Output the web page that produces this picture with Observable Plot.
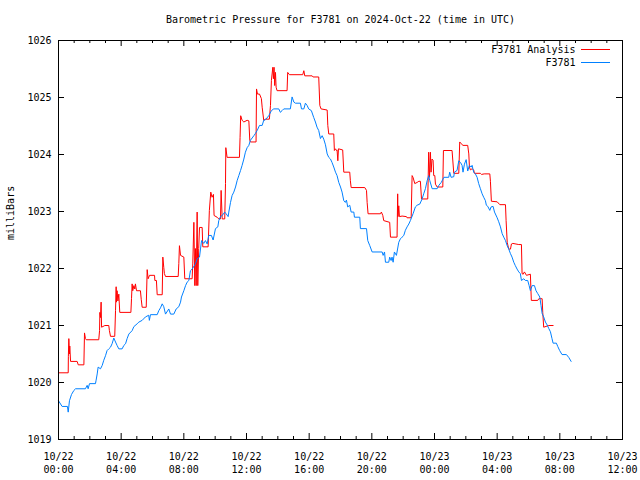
<!DOCTYPE html>
<html>
<head>
<meta charset="utf-8">
<script src="https://cdn.jsdelivr.net/npm/d3@7"></script>
<script src="https://cdn.jsdelivr.net/npm/@observablehq/plot@0.6"></script>
<style>
  html, body { margin: 0; padding: 0; background: white; }
</style>
</head>
<body>
<div id="chart"></div>
<script>
// Hours since 2024-10-22 00:00 UTC, and pressure in millibars
const obsHours = [0.00,0.23,0.57,0.62,0.70,0.83,0.98,1.09,1.72,1.83,1.89,1.98,2.36,2.40,2.47,2.53,2.68,2.79,2.89,3.00,3.10,3.21,3.32,3.42,3.53,3.64,3.74,3.85,4.06,4.17,4.28,4.38,4.49,4.70,4.81,5.02,5.13,5.34,5.55,5.76,5.80,5.87,6.30,6.40,6.51,6.62,6.72,6.83,7.04,7.15,7.36,7.51,7.68,7.79,7.85,8.00,8.11,8.21,8.32,8.42,8.53,8.74,8.85,9.00,9.13,9.27,9.38,9.49,9.59,9.76,9.87,10.02,10.17,10.23,10.34,10.45,10.61,10.70,10.83,10.87,10.98,11.08,11.19,11.30,11.40,11.51,11.62,11.72,11.83,11.93,12.04,12.15,12.25,12.36,12.47,12.57,12.68,12.83,13.00,13.10,13.21,13.42,13.59,13.74,14.06,14.16,14.27,14.38,14.80,14.91,15.02,15.12,15.44,15.51,15.66,15.76,15.87,15.97,16.14,16.29,16.40,16.50,16.61,16.72,16.83,16.93,17.04,17.15,17.25,17.36,17.46,17.57,17.68,17.78,17.89,18.00,18.10,18.21,18.31,18.38,18.46,18.59,18.68,18.85,18.89,19.23,19.27,19.66,19.74,19.87,20.02,20.66,20.72,20.81,20.87,21.08,21.14,21.23,21.29,21.36,21.44,21.57,21.72,21.82,21.93,22.04,22.14,22.25,22.36,22.46,22.63,22.78,22.89,23.06,23.21,23.31,23.42,23.53,23.63,23.70,23.85,24.17,24.28,24.43,24.60,24.91,24.97,25.06,25.23,25.27,25.44,25.55,25.66,25.76,25.82,25.91,26.02,26.12,26.23,26.34,26.40,26.50,26.61,26.72,26.82,26.93,27.04,27.14,27.25,27.31,27.40,27.53,27.61,27.74,27.83,28.00,28.10,28.21,28.32,28.42,28.53,28.64,28.74,28.85,28.95,29.06,29.16,29.27,29.38,29.48,29.55,29.70,29.80,29.95,30.04,30.12,30.23,30.38,30.48,30.59,30.72,30.80,30.87,30.97,31.08,31.19,31.29,31.40,31.50,31.57,31.78,31.87,31.99,32.14,32.42,32.57,32.72];
const obsValues = [1019.68,1019.58,1019.58,1019.48,1019.68,1019.79,1019.86,1019.89,1019.89,1019.95,1019.89,1019.98,1019.98,1020.04,1020.15,1020.27,1020.24,1020.30,1020.39,1020.47,1020.56,1020.59,1020.62,1020.68,1020.78,1020.71,1020.65,1020.59,1020.59,1020.65,1020.68,1020.77,1020.85,1020.91,1020.98,1021.03,1021.06,1021.09,1021.15,1021.18,1021.09,1021.19,1021.19,1021.26,1021.31,1021.38,1021.33,1021.20,1021.29,1021.20,1021.20,1021.29,1021.33,1021.41,1021.50,1021.61,1021.70,1021.76,1021.79,1021.96,1021.99,1022.08,1022.17,1022.20,1022.49,1022.44,1022.49,1022.43,1022.58,1022.58,1022.50,1022.70,1022.73,1022.84,1022.91,1022.93,1022.99,1022.96,1022.91,1022.99,1023.16,1023.28,1023.34,1023.43,1023.54,1023.63,1023.72,1023.81,1023.92,1024.04,1024.12,1024.16,1024.25,1024.29,1024.33,1024.37,1024.42,1024.51,1024.51,1024.60,1024.61,1024.68,1024.77,1024.80,1024.80,1024.74,1024.77,1024.80,1024.80,1025.01,1024.92,1024.90,1024.90,1024.80,1024.80,1024.90,1024.86,1024.80,1024.77,1024.65,1024.57,1024.48,1024.42,1024.28,1024.33,1024.27,1024.17,1024.01,1023.95,1023.92,1023.86,1023.78,1023.69,1023.63,1023.51,1023.43,1023.34,1023.19,1023.16,1023.20,1023.08,1023.11,1022.99,1022.99,1022.90,1022.90,1022.70,1022.70,1022.49,1022.40,1022.29,1022.29,1022.23,1022.29,1022.11,1022.11,1022.20,1022.14,1022.20,1022.11,1022.29,1022.23,1022.46,1022.52,1022.55,1022.58,1022.67,1022.73,1022.78,1022.84,1022.96,1023.08,1023.11,1023.13,1023.22,1023.31,1023.40,1023.54,1023.63,1023.54,1023.40,1023.40,1023.46,1023.51,1023.60,1023.60,1023.69,1023.60,1023.61,1023.69,1023.72,1023.89,1023.86,1023.81,1023.69,1023.83,1023.91,1023.71,1023.81,1023.78,1023.81,1023.69,1023.66,1023.60,1023.49,1023.40,1023.31,1023.25,1023.19,1023.11,1023.09,1023.02,1023.08,1023.09,1022.99,1022.89,1022.82,1022.73,1022.61,1022.55,1022.49,1022.40,1022.34,1022.26,1022.20,1022.11,1022.05,1021.99,1021.94,1021.91,1021.79,1021.82,1021.79,1021.79,1021.70,1021.61,1021.70,1021.70,1021.61,1021.56,1021.50,1021.35,1021.21,1021.15,1021.06,1021.01,1020.95,1020.89,1020.77,1020.69,1020.69,1020.63,1020.56,1020.49,1020.49,1020.44,1020.37];

const anaHours = [0.00,0.62,0.63,0.66,0.70,0.72,0.77,1.19,1.26,1.62,1.66,1.72,1.77,2.57,2.62,2.64,2.68,2.72,2.75,2.96,3.21,3.25,3.32,3.59,3.64,3.68,3.70,3.74,3.79,3.85,3.91,4.62,4.66,4.70,4.74,4.81,4.87,4.91,4.98,5.23,5.28,5.34,5.60,5.66,5.72,5.81,6.13,6.15,6.25,6.30,6.62,6.66,6.72,6.76,6.83,7.64,7.68,7.72,7.79,8.00,8.06,8.53,8.57,8.64,8.70,8.74,8.79,8.85,8.89,8.95,9.00,9.17,9.21,9.55,9.63,9.72,9.80,9.89,9.93,10.12,10.23,10.34,10.38,10.45,10.61,10.66,10.68,10.76,11.55,11.59,11.63,11.72,11.83,12.04,12.15,12.21,12.25,12.61,12.64,12.70,12.83,12.95,13.00,13.10,13.21,13.46,13.53,13.59,13.68,13.72,13.76,13.80,13.85,13.89,13.95,14.59,14.63,14.74,15.59,15.66,15.72,16.19,16.25,16.61,16.68,16.76,17.15,17.19,17.25,17.57,17.61,17.68,17.74,17.78,17.83,17.87,18.14,18.21,18.59,18.63,18.68,19.55,19.66,19.70,19.76,20.55,20.61,20.70,20.76,21.14,21.19,21.61,21.65,21.67,21.72,21.76,21.93,22.21,22.25,22.51,22.57,22.63,22.74,22.89,23.00,23.10,23.17,23.57,23.63,23.68,23.74,23.78,23.84,23.91,23.95,24.02,24.06,24.17,24.53,24.57,25.12,25.23,25.55,25.61,25.70,25.82,26.12,26.19,26.23,26.29,26.40,26.50,26.55,26.93,27.00,27.17,27.53,27.57,27.63,28.00,28.17,28.53,28.57,28.64,28.74,28.85,28.91,29.00,29.38,29.55,29.59,29.66,29.74,29.87,30.12,30.18,30.59,30.66,30.87,30.91,30.97,31.29,31.57];
const anaValues = [1020.17,1020.17,1020.46,1020.77,1020.50,1020.64,1020.37,1020.37,1020.31,1020.31,1020.87,1020.77,1020.75,1020.75,1020.91,1021.23,1021.14,1021.41,1020.97,1021.00,1021.00,1020.91,1020.81,1020.81,1021.26,1021.68,1021.41,1021.61,1021.43,1021.55,1021.23,1021.23,1021.47,1021.73,1021.61,1021.70,1021.64,1021.73,1021.61,1021.61,1021.46,1021.32,1021.32,1021.98,1021.82,1021.88,1021.88,1021.79,1021.79,1021.54,1021.54,1022.20,1022.02,1021.91,1021.86,1021.86,1022.09,1022.40,1022.23,1022.20,1021.82,1021.82,1022.08,1022.81,1021.70,1022.35,1021.70,1022.99,1021.70,1022.35,1022.72,1022.72,1022.38,1022.38,1023.02,1023.34,1023.25,1023.30,1022.93,1022.90,1022.87,1022.87,1023.37,1022.87,1022.87,1023.49,1024.12,1023.95,1023.95,1024.30,1024.68,1024.60,1024.57,1024.60,1024.59,1024.25,1024.22,1024.22,1025.15,1025.06,1025.06,1024.98,1024.83,1024.60,1024.62,1024.62,1024.86,1025.30,1025.53,1025.33,1025.53,1025.21,1025.44,1025.18,1025.12,1025.12,1025.44,1025.40,1025.40,1025.47,1025.38,1025.38,1025.36,1025.36,1024.86,1024.80,1024.78,1024.51,1024.36,1024.36,1024.07,1024.10,1024.07,1024.08,1023.89,1024.10,1024.08,1023.69,1023.69,1023.54,1023.42,1023.42,1023.37,1023.16,1022.96,1022.96,1022.99,1022.93,1022.84,1022.81,1022.55,1022.55,1023.31,1022.91,1023.10,1022.91,1022.92,1022.91,1022.89,1022.89,1023.63,1023.60,1023.49,1023.51,1023.53,1023.53,1023.22,1023.22,1024.04,1023.60,1024.04,1023.69,1023.92,1023.90,1023.63,1023.63,1023.48,1023.43,1023.43,1024.07,1024.07,1023.67,1023.67,1024.22,1024.19,1024.16,1024.16,1024.01,1023.78,1023.73,1023.75,1023.73,1023.67,1023.67,1023.65,1023.66,1023.66,1023.53,1023.18,1023.17,1023.12,1023.12,1022.84,1022.46,1022.34,1022.34,1022.43,1022.44,1022.42,1022.42,1021.91,1021.90,1021.94,1021.88,1021.90,1021.44,1021.44,1021.47,1021.47,1021.23,1020.97,1021.00,1021.00];

const xTickHours = [0, 4, 8, 12, 16, 20, 24, 28, 32, 36];
const xTickLabels = ["10/22\n00:00","10/22\n04:00","10/22\n08:00","10/22\n12:00","10/22\n16:00","10/22\n20:00","10/23\n00:00","10/23\n04:00","10/23\n08:00","10/23\n12:00"];
const yTicks = [1019, 1020, 1021, 1022, 1023, 1024, 1025, 1026];
const seriesNames = ["F3781 Analysis", "F3781"];
const seriesColors = ["#ff0000", "#0080ff"];
const titleText = "Barometric Pressure for F3781 on 2024-Oct-22 (time in UTC)";
const yLabel = "milliBars";

const t0 = Date.UTC(2024, 9, 22, 0, 0);
const toDate = h => new Date(t0 + h * 3600e3);

const obs = obsHours.map((h, i) => ({t: toDate(h), v: obsValues[i]}));
const ana = anaHours.map((h, i) => ({t: toDate(h), v: anaValues[i]}));
const hourTicks = d3.range(0, 37).filter(h => h % 4 !== 0).map(toDate);
const majorTicks = xTickHours.map(toDate);
const xLabelData = xTickHours.map((h, i) => ({t: toDate(h), label: xTickLabels[i]}));

const W = 640, H = 480, mL = 58, mR = 18, mT = 40, mB = 41;
const innerW = W - mL - mR, innerH = H - mT - mB;
const font = "'DejaVu Sans Mono', 'Liberation Mono', monospace";
const txt = {fontSize: 10, fill: "black", lineAnchor: "middle"};

const chart = Plot.plot({
  width: W, height: H,
  marginLeft: mL, marginRight: mR, marginTop: mT, marginBottom: mB,
  style: {fontFamily: font, fontSize: "10px", background: "white", color: "black"},
  x: {type: "utc", domain: [toDate(0), toDate(36)], axis: null},
  y: {domain: [1019, 1026], axis: null},
  marks: [
    // data
    Plot.line(ana, {x: "t", y: "v", stroke: seriesColors[0], strokeWidth: 1}),
    Plot.line(obs, {x: "t", y: "v", stroke: seriesColors[1], strokeWidth: 1}),
    // frame
    Plot.frame({stroke: "black", strokeWidth: 1}),
    // x minor ticks (bottom & top)
    Plot.tickX(hourTicks, {x: d => d, insetTop: innerH - 3, stroke: "black"}),
    Plot.tickX(hourTicks, {x: d => d, insetBottom: innerH - 3, stroke: "black"}),
    // x major ticks
    Plot.tickX(majorTicks, {x: d => d, insetTop: innerH - 6, stroke: "black"}),
    Plot.tickX(majorTicks, {x: d => d, insetBottom: innerH - 6, stroke: "black"}),
    // y ticks left & right
    Plot.tickY(yTicks, {y: d => d, insetRight: innerW - 6, stroke: "black"}),
    Plot.tickY(yTicks, {y: d => d, insetLeft: innerW - 6, stroke: "black"}),
    // x tick labels
    Plot.text(xLabelData, {x: "t", text: "label", frameAnchor: "bottom", dy: 23, lineHeight: 1.3, ...txt}),
    // y tick labels
    Plot.text(yTicks, {y: d => d, text: d => String(d), frameAnchor: "left", dx: -7, textAnchor: "end", ...txt}),
    // y axis label
    Plot.text([yLabel], {text: d => d, frameAnchor: "left", dx: -48, rotate: -90, ...txt}),
    // title
    Plot.text([titleText], {text: d => d, frameAnchor: "top", dy: -21, ...txt}),
    // legend
    Plot.text([seriesNames[0]], {text: d => d, frameAnchor: "top-right", dx: -47, dy: 9, textAnchor: "end", ...txt}),
    Plot.text([seriesNames[1]], {text: d => d, frameAnchor: "top-right", dx: -47, dy: 22, textAnchor: "end", ...txt}),
    Plot.tickY([1026], {y: d => d, dy: 9, insetLeft: 523, insetRight: 12, stroke: seriesColors[0]}),
    Plot.tickY([1026], {y: d => d, dy: 22, insetLeft: 523, insetRight: 12, stroke: seriesColors[1]})
  ]
});
document.getElementById("chart").appendChild(chart);
</script>
</body>
</html>
